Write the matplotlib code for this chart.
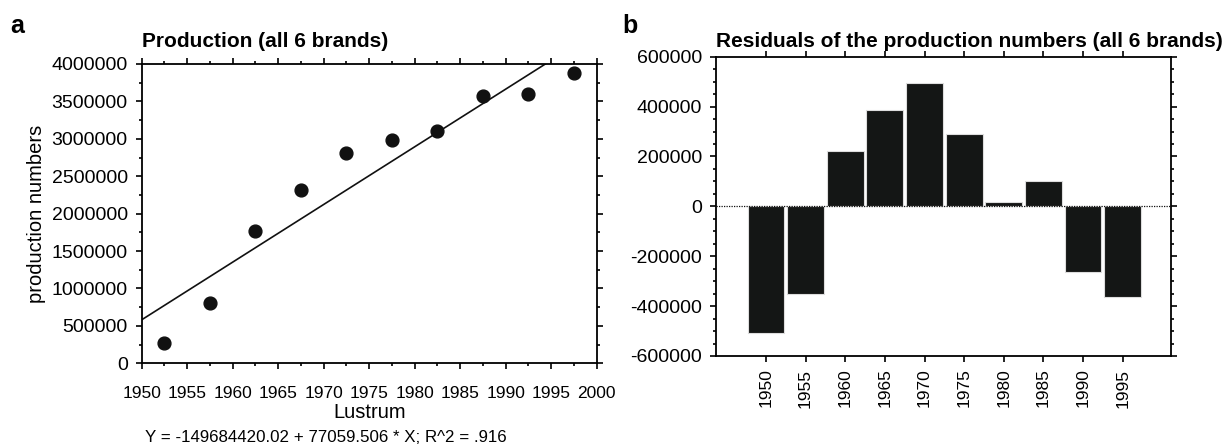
import numpy as np
import matplotlib
matplotlib.use("Agg")
import matplotlib.pyplot as plt
from matplotlib.ticker import MultipleLocator, FormatStrFormatter

plt.rcParams['font.family'] = ['Liberation Sans', 'DejaVu Sans']
plt.rcParams['axes.unicode_minus'] = False

# data
lustrum = [1952.5, 1957.5, 1962.5, 1967.5, 1972.5, 1977.5, 1982.5, 1987.5, 1992.5, 1997.5]
production = [268000, 808000, 1762000, 2315000, 2812000, 2990000, 3100000, 3575000, 3598000, 3877000]
res_labels = ['1950', '1955', '1960', '1965', '1970', '1975', '1980', '1985', '1990', '1995']
residuals = [-509000, -352000, 221000, 387000, 494000, 291000, 19000, 100000, -264000, -364000]
intercept = -149684420.02
slope = 77059.506

fig = plt.figure(figsize=(12.28, 4.45), dpi=100)

# panel a
ax1 = fig.add_axes([0.1154, 0.1836, 0.3705, 0.6726])
ax1.scatter(lustrum, production, s=85, color='#111111', zorder=3)
xl = np.array([1950, 2000])
ax1.plot(xl, intercept + slope * xl, color='#111111', lw=1.2)
ax1.set_xlim(1950, 2000)
ax1.set_ylim(0, 4000000)
ax1.xaxis.set_major_locator(MultipleLocator(5))
ax1.xaxis.set_minor_locator(MultipleLocator(2.5))
ax1.yaxis.set_major_locator(MultipleLocator(500000))
ax1.yaxis.set_minor_locator(MultipleLocator(250000))
ax1.yaxis.set_major_formatter(FormatStrFormatter('%d'))
ax1.tick_params(axis='both', which='both', direction='out', top=True, right=True, width=1.2)
ax1.tick_params(axis='both', which='major', length=4)
ax1.tick_params(axis='both', which='minor', length=2.2)
ax1.tick_params(axis='x', labelsize=12.5, pad=12)
ax1.tick_params(axis='y', labelsize=14, pad=6)
ax1.set_xlabel('Lustrum', fontsize=14.5, labelpad=2)
ax1.set_ylabel('production numbers', fontsize=14.5, labelpad=4)
ax1.set_title('Production (all 6 brands)', fontsize=15, fontweight='bold', loc='left', pad=12)
for s in ax1.spines.values():
    s.set_linewidth(1.3)

# panel b
ax2 = fig.add_axes([0.5831, 0.2, 0.3705, 0.6726])
pos = np.arange(len(residuals))
ax2.bar(pos, residuals, width=0.93, color='#141615', edgecolor='#dddddd', lw=0.8, zorder=2)
ax2.axhline(0, color='#111111', lw=0.9, ls=(0, (1, 1)), zorder=3)
ax2.set_xlim(-1.26, 10.22)
ax2.set_ylim(-600000, 600000)
ax2.set_xticks(pos)
ax2.set_xticklabels(res_labels, rotation=90)
ax2.yaxis.set_major_locator(MultipleLocator(200000))
ax2.yaxis.set_minor_locator(MultipleLocator(50000))
ax2.yaxis.set_major_formatter(FormatStrFormatter('%d'))
ax2.tick_params(axis='both', which='both', direction='out', top=True, right=True, width=1.2)
ax2.tick_params(axis='both', which='major', length=4)
ax2.tick_params(axis='y', which='minor', length=2.2)
ax2.tick_params(axis='x', labelsize=12.5, pad=5)
ax2.tick_params(axis='y', labelsize=14, pad=6)
ax2.set_title('Residuals of the production numbers (all 6 brands)', fontsize=15,
              fontweight='bold', loc='left', pad=7)
for s in ax2.spines.values():
    s.set_linewidth(1.3)

fig.text(145 / 1228, 1 - 438 / 445, 'Y = -149684420.02 + 77059.506 * X; R^2 = .916',
         fontsize=12.2, va='center', ha='left')
fig.text(10 / 1228, 1 - 26 / 445, 'a', fontsize=18, fontweight='bold', va='center')
fig.text(622 / 1228, 1 - 26 / 445, 'b', fontsize=18, fontweight='bold', va='center')

fig.savefig('out.png', dpi=100)
